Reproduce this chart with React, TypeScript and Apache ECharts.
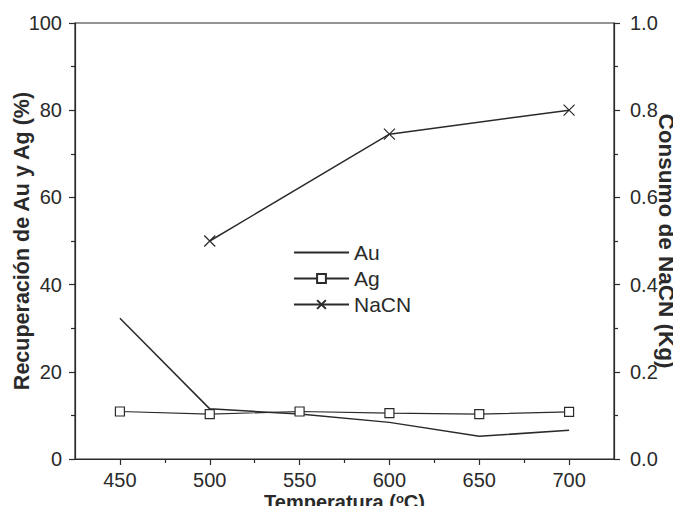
import React, { useEffect, useRef } from "react";
import * as echarts from "echarts";

const temps = [450, 500, 550, 600, 650, 700];
const auValues = [32.3, 11.5, 10.3, 8.4, 5.2, 6.6];
const agValues = [10.9, 10.3, 10.9, 10.5, 10.3, 10.8];
const nacnTemps = [500, 600, 700];
const nacnValues = [0.5, 0.745, 0.8];
const xMajorTicks = [450, 500, 550, 600, 650, 700];
const xMinorTicks = [475, 525, 575, 625, 675];

const FONT = "Liberation Sans, Arial, sans-serif";
const INK = "#2a2a2a";

export default function App() {
  const ref = useRef<HTMLDivElement>(null);
  useEffect(() => {
    if (!ref.current) return;
    const chart = echarts.init(ref.current, null, { renderer: "svg" });
    const crossPath = "path://M0,0L10,10M10,0L0,10";
    chart.setOption({
      animation: false,
      backgroundColor: "#ffffff",
      textStyle: { fontFamily: FONT, color: INK },
      grid: {
        left: 75,
        right: 67,
        top: 23,
        bottom: 55,
        show: true,
        borderColor: INK,
        borderWidth: 1.2,
        containLabel: false,
        outerBoundsMode: "none",
      },
      legend: {
        orient: "vertical",
        left: 288,
        top: 237,
        itemWidth: 55,
        itemHeight: 11,
        itemGap: 5,
        textStyle: { fontSize: 21, color: INK, fontFamily: FONT },
        data: [
          { name: "Au", itemStyle: { opacity: 0 } },
          { name: "Ag" },
          { name: "NaCN" },
        ],
      },
      xAxis: [
        {
          type: "value",
          min: 425,
          max: 725,
          interval: 25,
          position: "bottom",
          axisLine: { show: true, lineStyle: { color: INK, width: 1.2 } },
          axisTick: {
            show: true,
            inside: false,
            length: 6,
            customValues: xMajorTicks,
            lineStyle: { color: INK, width: 1.2 },
          },
          axisLabel: {
            customValues: xMajorTicks,
            fontSize: 20,
            color: INK,
            fontFamily: FONT,
            margin: 11,
          },
          splitLine: { show: false },
          name: "{a|Temperatura (}{s|o}{a|C)}",
          nameLocation: "middle",
          nameGap: 33,
          nameMoveOverlap: false,
          nameTextStyle: {
            rich: {
              a: { fontSize: 20, lineHeight: 20, fontWeight: "bold", color: INK, fontFamily: FONT },
              s: { fontSize: 13, lineHeight: 20, fontWeight: "bold", color: INK, fontFamily: FONT, verticalAlign: "top" },
            },
          },
        },
        {
          type: "value",
          min: 425,
          max: 725,
          interval: 25,
          position: "bottom",
          axisLine: { show: false },
          axisTick: {
            show: true,
            length: 4,
            customValues: xMinorTicks,
            lineStyle: { color: INK, width: 1.2 },
          },
          axisLabel: { show: false },
          splitLine: { show: false },
        },
      ],
      yAxis: [
        {
          type: "value",
          min: 0,
          max: 100,
          interval: 20,
          position: "left",
          axisLine: { show: true, lineStyle: { color: INK, width: 1.2 } },
          axisTick: { show: true, length: 6, lineStyle: { color: INK, width: 1.2 } },
          minorTick: { show: true, splitNumber: 2, length: 4, lineStyle: { color: INK, width: 1.2 } },
          axisLabel: { fontSize: 20, color: INK, fontFamily: FONT, margin: 13 },
          splitLine: { show: false },
          name: "Recuperación de Au y Ag (%)",
          nameLocation: "middle",
          nameGap: 42,
          nameMoveOverlap: false,
          nameTextStyle: { fontSize: 21.5, fontWeight: "bold", color: INK, fontFamily: FONT },
        },
        {
          type: "value",
          min: 0,
          max: 1,
          interval: 0.2,
          position: "right",
          axisLine: { show: true, lineStyle: { color: INK, width: 1.2 } },
          axisTick: { show: true, length: 6, lineStyle: { color: INK, width: 1.2 } },
          minorTick: { show: true, splitNumber: 2, length: 4, lineStyle: { color: INK, width: 1.2 } },
          axisLabel: {
            fontSize: 20,
            color: INK,
            fontFamily: FONT,
            margin: 16,
            formatter: (v: number) => v.toFixed(1),
          },
          splitLine: { show: false },
          name: "Consumo de NaCN (Kg)",
          nameLocation: "middle",
          nameGap: 41,
          nameRotate: -90,
          nameMoveOverlap: false,
          nameTextStyle: { fontSize: 22.5, fontWeight: "bold", color: INK, fontFamily: FONT },
        },
      ],
      series: [
        {
          name: "Au",
          type: "line",
          xAxisIndex: 0,
          yAxisIndex: 0,
          data: temps.map((t, i) => [t, auValues[i]]),
          symbol: "none",
          lineStyle: { color: INK, width: 1.5 },
          itemStyle: { color: INK },
        },
        {
          name: "Ag",
          type: "line",
          xAxisIndex: 0,
          yAxisIndex: 0,
          data: temps.map((t, i) => [t, agValues[i]]),
          symbol: "rect",
          symbolSize: 9,
          lineStyle: { color: INK, width: 1.2 },
          itemStyle: { color: "#ffffff", borderColor: INK, borderWidth: 1.2 },
        },
        {
          name: "NaCN",
          type: "line",
          xAxisIndex: 0,
          yAxisIndex: 1,
          data: nacnTemps.map((t, i) => [t, nacnValues[i]]),
          symbol: crossPath,
          symbolSize: 11,
          lineStyle: { color: INK, width: 1.5 },
          itemStyle: { color: "none", borderColor: INK, borderWidth: 1.2 },
        },
      ],
    });
    return () => chart.dispose();
  }, []);
  return <div ref={ref} style={{ width: 681, height: 514, margin: -8 }} />;
}
